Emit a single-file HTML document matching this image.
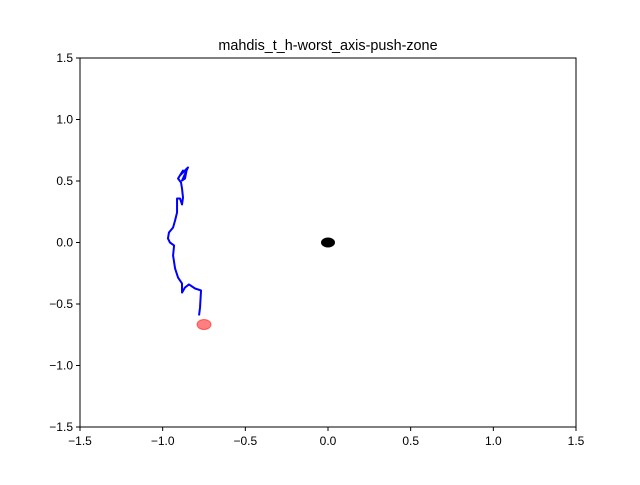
<!DOCTYPE html>
<html><head><meta charset="utf-8"><style>
body{margin:0;background:#fff;}
svg text{font-family:"Liberation Sans",sans-serif;font-size:12px;fill:#000;}
</style></head><body>
<svg id="chart" width="640" height="480">
<rect width="640" height="480" fill="#fff"/>
<text x="328" y="50" text-anchor="middle" style="font-size:14.4px">mahdis_t_h-worst_axis-push-zone</text>
<g id="plot"></g>
</svg>
<script>
const pathX=[-0.780,-0.774,-0.768,-0.804,-0.841,-0.865,-0.883,-0.883,-0.907,-0.925,-0.937,-0.931,-0.956,-0.968,-0.962,-0.937,-0.925,-0.913,-0.913,-0.913,-0.895,-0.883,-0.877,-0.883,-0.889,-0.907,-0.877,-0.895,-0.853,-0.865,-0.883,-0.847,-0.877];
const pathY=[-0.593,-0.528,-0.390,-0.374,-0.341,-0.366,-0.407,-0.333,-0.285,-0.211,-0.106,-0.024,0.0,0.033,0.081,0.122,0.179,0.244,0.317,0.358,0.358,0.309,0.366,0.439,0.488,0.520,0.585,0.545,0.602,0.520,0.504,0.610,0.569];
const goal=[-0.75,-0.667];
const objectPos=[0,0];
const xTicks=[-1.5,-1.0,-0.5,0.0,0.5,1.0,1.5];
const yTicks=[-1.5,-1.0,-0.5,0.0,0.5,1.0,1.5];
const L=80,R=576,T=58,B=427;
const sx=v=>L+(v+1.5)/3*(R-L);
const sy=v=>B-(v+1.5)/3*(B-T);
const g=document.getElementById('plot');
const NS='http://www.w3.org/2000/svg';
function mk(t,a){const e=document.createElementNS(NS,t);for(const k in a)e.setAttribute(k,a[k]);g.appendChild(e);return e;}
const fmt=v=>(v<0?'\u2212':'')+Math.abs(v).toFixed(1);
xTicks.forEach(v=>{
 const l=mk('line',{x1:sx(v),x2:sx(v),y1:B,y2:B+4,stroke:'#000'});
 
 
 const t=mk('text',{x:sx(v),y:B+18,'text-anchor':'middle'});t.textContent=fmt(v);
 
 
});
yTicks.forEach(v=>{
 const l=mk('line',{x1:L-4,x2:L,y1:sy(v),y2:sy(v),stroke:'#000'});
 
 
 const t=mk('text',{x:L-7,y:sy(v)+4,'text-anchor':'end'});t.textContent=fmt(v);
 
 
});
const p=mk('polyline',{points:pathX.map((x,i)=>sx(x)+','+sy(pathY[i])).join(' '),fill:'none',stroke:'#0000ff','stroke-width':2,'stroke-linejoin':'round'});


const gc=mk('ellipse',{cx:sx(goal[0]),cy:sy(goal[1]),rx:7,ry:5,fill:'#ff0000','fill-opacity':0.5,stroke:'#ff0000','stroke-opacity':0.5});


const oc=mk('ellipse',{cx:sx(objectPos[0]),cy:sy(objectPos[1]),rx:7,ry:5,fill:'#000'});


const fr=mk('rect',{x:L,y:T,width:R-L,height:B-T,fill:'none',stroke:'#000','stroke-width':1});


</script>
</body></html>
